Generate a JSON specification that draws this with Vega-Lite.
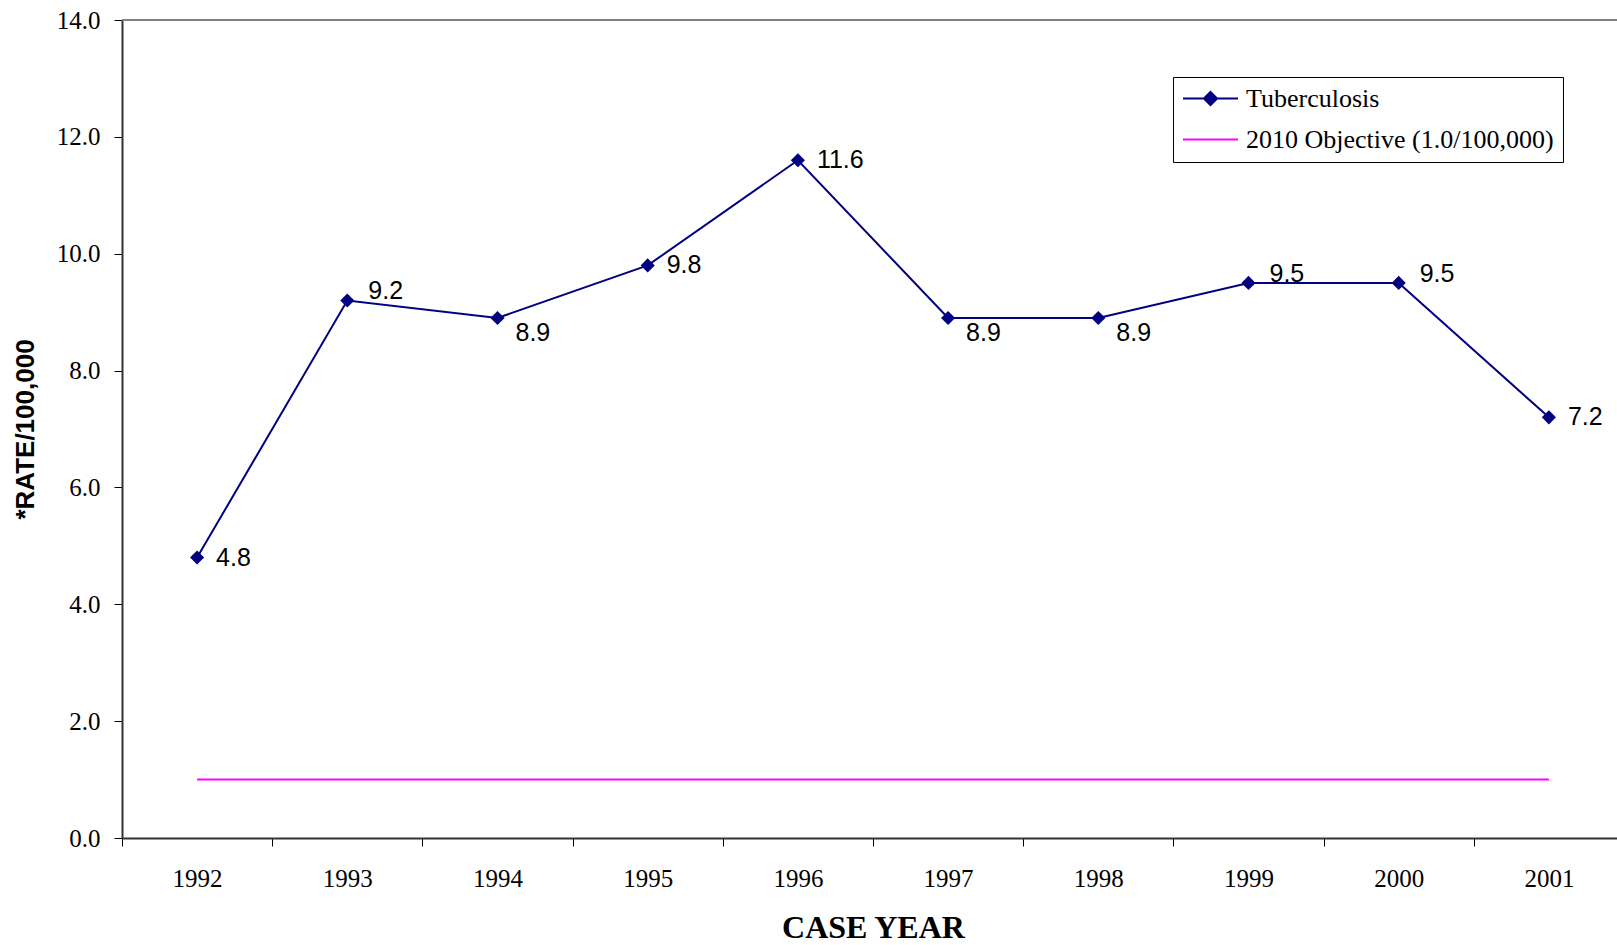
{
  "$schema": "https://vega.github.io/schema/vega-lite/v6.json",
  "autosize": "none",
  "width": 1495,
  "height": 818,
  "padding": {"left": 122, "top": 20, "right": 0, "bottom": 107},
  "background": "white",
  "config": {
    "view": {"stroke": null},
    "axis": {"labelColor": "#000", "titleColor": "#000", "tickColor": "#000", "domainColor": "#333", "domainWidth": 2, "tickWidth": 1, "grid": false}
  },
  "data": {
    "values": [
      {"year": "1992", "series": "Tuberculosis", "value": 4.8},
      {"year": "1993", "series": "Tuberculosis", "value": 9.2},
      {"year": "1994", "series": "Tuberculosis", "value": 8.9},
      {"year": "1995", "series": "Tuberculosis", "value": 9.8},
      {"year": "1996", "series": "Tuberculosis", "value": 11.6},
      {"year": "1997", "series": "Tuberculosis", "value": 8.9},
      {"year": "1998", "series": "Tuberculosis", "value": 8.9},
      {"year": "1999", "series": "Tuberculosis", "value": 9.5},
      {"year": "2000", "series": "Tuberculosis", "value": 9.5},
      {"year": "2001", "series": "Tuberculosis", "value": 7.2},
      {"year": "1992", "series": "2010 Objective (1.0/100,000)", "value": 1.0},
      {"year": "1993", "series": "2010 Objective (1.0/100,000)", "value": 1.0},
      {"year": "1994", "series": "2010 Objective (1.0/100,000)", "value": 1.0},
      {"year": "1995", "series": "2010 Objective (1.0/100,000)", "value": 1.0},
      {"year": "1996", "series": "2010 Objective (1.0/100,000)", "value": 1.0},
      {"year": "1997", "series": "2010 Objective (1.0/100,000)", "value": 1.0},
      {"year": "1998", "series": "2010 Objective (1.0/100,000)", "value": 1.0},
      {"year": "1999", "series": "2010 Objective (1.0/100,000)", "value": 1.0},
      {"year": "2000", "series": "2010 Objective (1.0/100,000)", "value": 1.0},
      {"year": "2001", "series": "2010 Objective (1.0/100,000)", "value": 1.0}
    ]
  },
  "encoding": {
    "y": {
      "field": "value", "type": "quantitative",
      "scale": {"domain": [0, 14], "nice": false},
      "axis": {
        "title": "*RATE/100,000", "titleFont": "Liberation Sans", "titleFontSize": 26, "titleFontWeight": "bold", "titlePadding": 18,
        "labelFont": "Liberation Serif", "labelFontSize": 25, "labelPadding": 14, "format": ".1f",
        "values": [0, 2, 4, 6, 8, 10, 12, 14], "tickSize": 8
      }
    }
  },
  "layer": [
    {
      "transform": [{"filter": "datum.year === '1992' && datum.series === 'Tuberculosis'"}],
      "mark": {"type": "rule", "color": "#808080", "strokeWidth": 2},
      "encoding": {"y": {"datum": 14, "type": "quantitative"}}
    },
    {
      "mark": {"type": "line", "strokeWidth": 2},
      "encoding": {
        "x": {
          "field": "year", "type": "ordinal",
          "scale": {"type": "band", "paddingInner": 0, "paddingOuter": 0, "range": [0, 1502]},
          "axis": {
            "title": "CASE YEAR", "titleFont": "Liberation Serif", "titleFontSize": 32, "titleFontWeight": "bold", "titlePadding": 21,
            "labelFont": "Liberation Serif", "labelFontSize": 25, "labelAngle": 0, "labelPadding": 20,
            "tickBand": "extent", "tickSize": 8
          }
        },
        "color": {
          "field": "series", "type": "nominal",
          "scale": {"domain": ["Tuberculosis", "2010 Objective (1.0/100,000)"], "range": ["#000080", "#FF00FF"]},
          "legend": {
            "orient": "none", "legendX": 1051, "legendY": 57, "title": null,
            "padding": 9, "strokeColor": "#000", "fillColor": "#fff",
            "labelFont": "Liberation Serif", "labelFontSize": 26, "labelColor": "#000", "labelLimit": 0,
            "symbolSize": 3025, "symbolStrokeWidth": 2, "clipHeight": 25, "rowPadding": 14, "labelOffset": 7,
            "symbolType": {"expr": "datum.value === 'Tuberculosis' ? 'M-1,0H1M0,-0.24L0.24,0L0,0.24L-0.24,0Z' : 'M-1,0H1'"},
            "symbolFillColor": {"expr": "datum.value === 'Tuberculosis' ? '#000080' : 'transparent'"}
          }
        }
      }
    },
    {
      "transform": [{"filter": "datum.series === 'Tuberculosis'"}],
      "mark": {"type": "point", "shape": "diamond", "filled": true, "color": "#000080", "size": 200, "opacity": 1},
      "encoding": {"x": {"field": "year", "type": "ordinal"}}
    },
    {
      "transform": [{"filter": "datum.series === 'Tuberculosis' && indexof(['1992','1995','1996','2001'], datum.year) >= 0"}],
      "mark": {"type": "text", "align": "left", "baseline": "middle", "dx": 19, "dy": 0, "font": "Liberation Sans", "fontSize": 25, "color": "#000"},
      "encoding": {"x": {"field": "year", "type": "ordinal"}, "text": {"field": "value", "type": "quantitative", "format": ".1f"}}
    },
    {
      "transform": [{"filter": "datum.series === 'Tuberculosis' && indexof(['1993','1999','2000'], datum.year) >= 0"}],
      "mark": {"type": "text", "align": "left", "baseline": "middle", "dx": 21, "dy": -9, "font": "Liberation Sans", "fontSize": 25, "color": "#000"},
      "encoding": {"x": {"field": "year", "type": "ordinal"}, "text": {"field": "value", "type": "quantitative", "format": ".1f"}}
    },
    {
      "transform": [{"filter": "datum.series === 'Tuberculosis' && indexof(['1994','1997','1998'], datum.year) >= 0"}],
      "mark": {"type": "text", "align": "left", "baseline": "middle", "dx": 18, "dy": 15, "font": "Liberation Sans", "fontSize": 25, "color": "#000"},
      "encoding": {"x": {"field": "year", "type": "ordinal"}, "text": {"field": "value", "type": "quantitative", "format": ".1f"}}
    }
  ]
}
